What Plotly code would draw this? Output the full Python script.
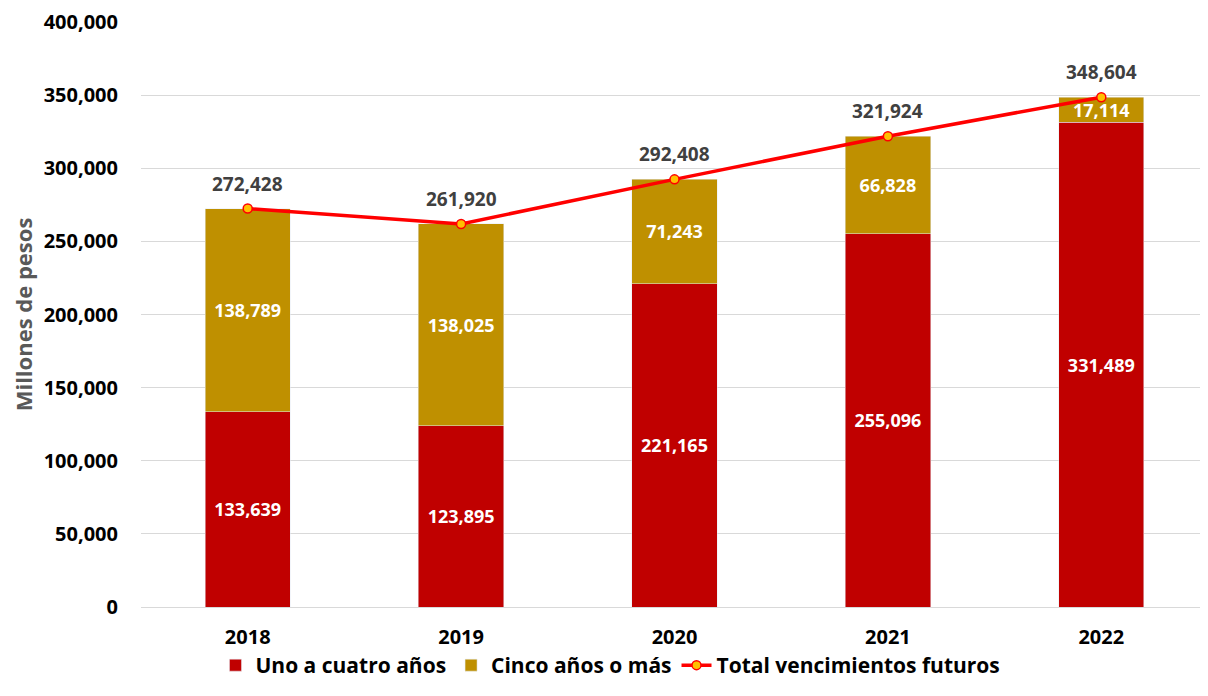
import plotly.graph_objects as go

years = ["2018", "2019", "2020", "2021", "2022"]
uno_a_cuatro = [133639, 123895, 221165, 255096, 331489]
cinco_o_mas = [138789, 138025, 71243, 66828, 17114]
total = [272428, 261920, 292408, 321924, 348604]
y_ticks = [0, 50000, 100000, 150000, 200000, 250000, 300000, 350000, 400000]

FONT = "Open Sans"


def fmt(v):
    return f"{v:,}"


fig = go.Figure()
fig.add_trace(go.Bar(
    x=years, y=uno_a_cuatro, name="Uno a cuatro años",
    marker=dict(color="#C00000"),
    text=[fmt(v) for v in uno_a_cuatro], textposition="inside",
    insidetextanchor="middle", constraintext="none",
    textfont=dict(family=FONT, size=18, color="white", weight="bold"),
))
fig.add_trace(go.Bar(
    x=years, y=cinco_o_mas, name="Cinco años o más",
    marker=dict(color="#BF9000"),
    text=[fmt(v) for v in cinco_o_mas], textposition="inside",
    insidetextanchor="middle", constraintext="none",
    textfont=dict(family=FONT, size=18, color="white", weight="bold"),
))
fig.add_trace(go.Scatter(
    x=years, y=total, name="Total vencimientos futuros",
    mode="lines+markers",
    line=dict(color="#FF0000", width=3.5),
    marker=dict(color="#FFC000", size=9, line=dict(color="#FF0000", width=1.5)),
))

# total labels above the line points (category index, since "2018" would be read as index 2018)
for i, v in enumerate(total):
    fig.add_annotation(x=i, y=v, text=fmt(v), showarrow=False, yshift=25,
                       font=dict(family=FONT, size=19, color="#404040", weight="bold"))

# page body keeps its 8px margin, so the figure is 1200x680
fig.update_layout(
    width=1200, height=680,
    barmode="stack", bargap=0.6,
    plot_bgcolor="white", paper_bgcolor="white",
    margin=dict(l=133, r=0, t=14, b=81),
    font=dict(family=FONT, color="black"),
    legend=dict(
        orientation="h", x=0.44, xanchor="center", y=-0.1, yanchor="middle",
        font=dict(family=FONT, size=21, color="black", weight="bold"),
        traceorder="normal", bgcolor="rgba(0,0,0,0)",
    ),
    xaxis=dict(
        type="category", showline=False, automargin=False,
        ticks="outside", ticklen=12, tickcolor="rgba(0,0,0,0)",
        tickfont=dict(family=FONT, size=20, color="black", weight="bold"),
    ),
    yaxis=dict(
        range=[0, 400000], tickvals=y_ticks, automargin=False,
        ticktext=[fmt(v) for v in y_ticks],
        showgrid=True, gridcolor="#D9D9D9", gridwidth=1.3,
        zeroline=True, zerolinecolor="#D9D9D9", zerolinewidth=1.3,
        ticks="", ticklabelstandoff=22,
        tickfont=dict(family=FONT, size=20, color="black", weight="bold"),
        title=dict(text="Millones de pesos", standoff=12,
                   font=dict(family=FONT, size=22, color="#595959", weight="bold")),
    ),
)

fig.write_html("out.html", config={"displayModeBar": False})
